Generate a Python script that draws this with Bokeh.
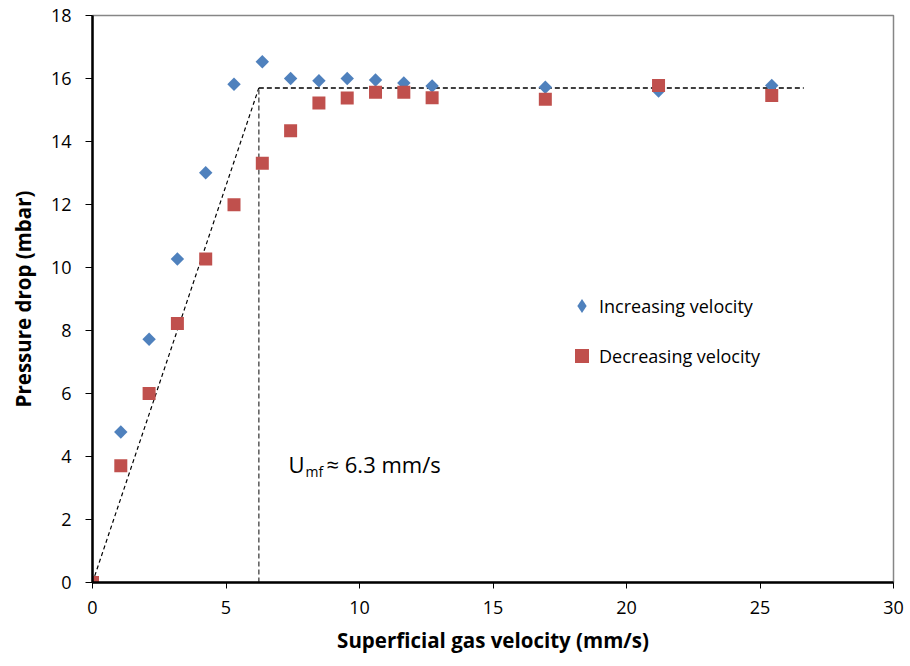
import numpy as np
from bokeh.plotting import figure
from bokeh.models import Range1d, Label, Legend, LegendItem, FixedTicker
from bokeh.embed import file_html
from bokeh.resources import INLINE

# ---- data ----
velocity = [0, 1.06, 2.12, 3.18, 4.24, 5.30, 6.36, 7.42, 8.48, 9.54, 10.60, 11.66, 12.72, 16.96, 21.20, 25.44]
dp_increasing = [0, 4.78, 7.72, 10.27, 13.01, 15.82, 16.53, 16.00, 15.93, 16.00, 15.95, 15.86, 15.76, 15.72, 15.60, 15.78]
dp_decreasing = [0, 3.71, 6.00, 8.22, 10.27, 11.99, 13.31, 14.34, 15.22, 15.38, 15.56, 15.56, 15.39, 15.34, 15.78, 15.46]

umf = 6.23          # minimum fluidisation velocity (mm/s)
dp_plateau = 15.70  # plateau pressure drop (mbar)
plateau_end = 26.64 # end of the plateau guide line (mm/s)

x_ticks = [0, 5, 10, 15, 20, 25, 30]
y_ticks = [0, 2, 4, 6, 8, 10, 12, 14, 16, 18]

label_increasing = "Increasing velocity"
label_decreasing = "Decreasing velocity"
umf_text_main = "U"
umf_text_sub = "mf"
umf_text_rest = "≈ 6.3 mm/s"
umf_label_x = 7.34
umf_label_y = 3.77

BLUE = "#4F81BD"
RED = "#C0504D"
FONT = "Open Sans"

p = figure(width=910, height=666, output_backend="svg", toolbar_location=None,
           x_range=Range1d(0, 30), y_range=Range1d(0, 18),
           min_border_left=92, min_border_right=17, min_border_top=15, min_border_bottom=84,
           background_fill_color="white", border_fill_color="white")

p.grid.visible = False
p.outline_line_color = "#868686"
p.outline_line_width = 1.5

p.xaxis.ticker = FixedTicker(ticks=x_ticks)
p.yaxis.ticker = FixedTicker(ticks=y_ticks)
p.axis.minor_tick_line_color = None
p.axis.major_tick_in = 0
p.yaxis.major_tick_out = 7
p.xaxis.major_tick_out = 6
p.axis.major_tick_line_width = 1
p.axis.major_tick_line_color = "black"
p.axis.axis_line_width = 2.5
p.axis.axis_line_color = "black"
p.axis.major_label_text_font = FONT
p.axis.major_label_text_font_size = "18px"
p.axis.major_label_text_color = "black"
p.yaxis.major_label_standoff = 14
p.xaxis.major_label_standoff = 12
p.xaxis.axis_label = "Superficial gas velocity (mm/s)"
p.yaxis.axis_label = "Pressure drop (mbar)"
p.axis.axis_label_text_font = FONT
p.axis.axis_label_text_font_size = "20.5px"
p.axis.axis_label_text_font_style = "bold"
p.axis.axis_label_text_color = "black"
p.xaxis.axis_label_standoff = 9
p.yaxis.axis_label_standoff = 11

# guide lines
p.line([0, umf], [0, dp_plateau], line_dash="4 3", line_width=1.2, line_color="black")
p.line([umf, umf], [0, dp_plateau], line_dash="5 3", line_width=1.5, line_color="#595959")
p.line([umf, plateau_end], [dp_plateau, dp_plateau], line_dash="5 3", line_width=1.5, line_color="black")

# data
r_inc = p.scatter(velocity, dp_increasing, marker="square", angle=np.pi / 4, size=9.5,
                  fill_color=BLUE, line_color=None)
r_dec = p.scatter(velocity, dp_decreasing, marker="square", size=13,
                  fill_color=RED, line_color=None)
# legend-only swatch (no visible data point)
r_inc_legend = p.scatter([np.nan], [np.nan], marker="diamond", fill_color=BLUE, line_color=None)

legend = Legend(items=[LegendItem(label=label_increasing, renderers=[r_inc_legend]),
                       LegendItem(label=label_decreasing, renderers=[r_dec])],
                location=(472, 209), glyph_width=35, glyph_height=35, label_standoff=0,
                spacing=15, padding=0, margin=0, border_line_color=None,
                background_fill_alpha=0, label_text_font=FONT, label_text_font_size="18px",
                label_text_color="black")
p.add_layout(legend)

# U_mf annotation
p.add_layout(Label(x=umf_label_x, y=umf_label_y, text=umf_text_main, text_font=FONT,
                   text_font_size="22px", text_baseline="alphabetic", text_color="black"))
p.add_layout(Label(x=umf_label_x, y=umf_label_y, x_offset=17, y_offset=-8, text=umf_text_sub,
                   text_font=FONT, text_font_size="14px", text_baseline="alphabetic",
                   text_color="black"))
p.add_layout(Label(x=umf_label_x, y=umf_label_y, x_offset=38, text=umf_text_rest, text_font=FONT,
                   text_font_size="22px", text_baseline="alphabetic", text_color="black"))

open("out.html", "w").write(file_html(p, INLINE))
